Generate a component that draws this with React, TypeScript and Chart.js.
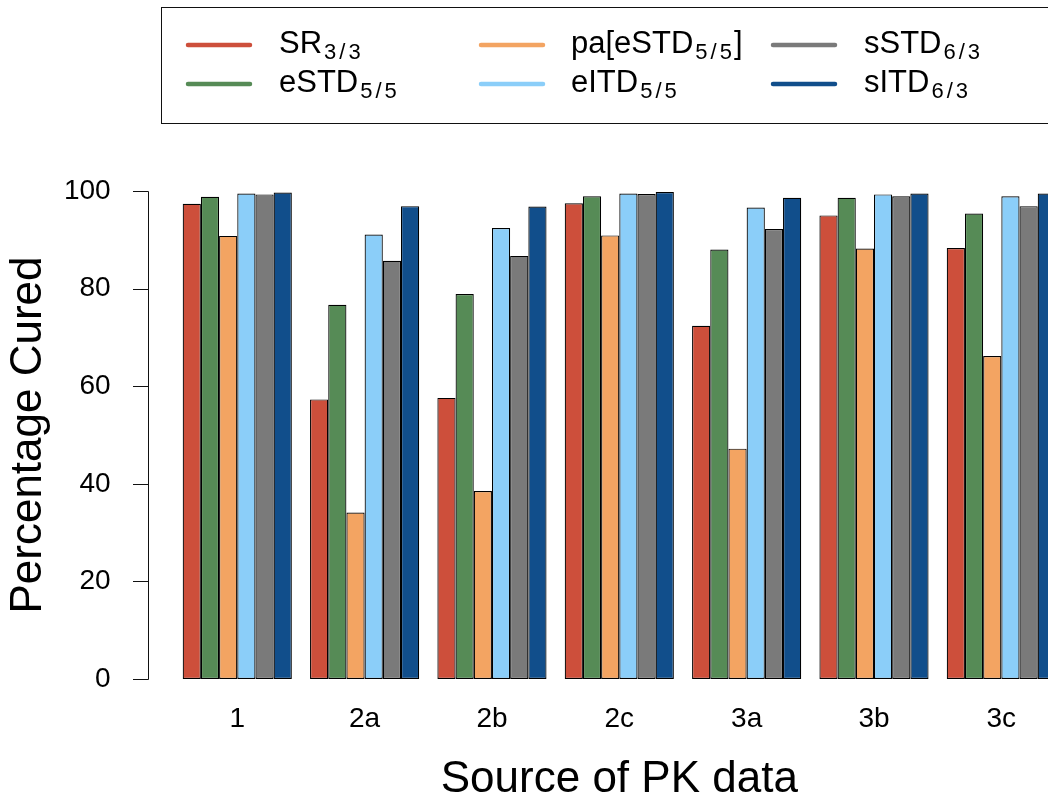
import React, { useEffect, useRef } from 'react';
import { Chart, registerables } from 'chart.js';

Chart.register(...registerables);

const FONT = '"Liberation Sans", Arial, Helvetica, sans-serif';

// ---- data ----
const categories = ['1', '2a', '2b', '2c', '3a', '3b', '3c'];
const srValues = [97.4, 57.3, 57.6, 97.5, 72.4, 95.0, 88.3];
const eSTDValues = [98.8, 76.7, 78.9, 98.9, 88.0, 98.6, 95.4];
const paESTDValues = [90.8, 34.1, 38.5, 90.9, 47.2, 88.2, 66.2];
const eITDValues = [99.5, 91.1, 92.4, 99.5, 96.6, 99.3, 98.9];
const sSTDValues = [99.3, 85.7, 86.7, 99.4, 92.2, 98.9, 96.9];
const sITDValues = [99.7, 96.9, 96.8, 99.8, 98.6, 99.5, 99.5];
const yTicks = [0, 20, 40, 60, 80, 100];

const seriesMain = ['SR', 'eSTD', 'pa[eSTD', 'eITD', 'sSTD', 'sITD'];
const seriesSub = ['3/3', '5/5', '5/5', '5/5', '6/3', '6/3'];
const seriesSuffix = ['', '', ']', '', '', ''];
const seriesColors = ['#CD4F3B', '#568B56', '#F3A462', '#8BCEF9', '#7A7A7A', '#114E8B'];
const seriesValues = [srValues, eSTDValues, paESTDValues, eITDValues, sSTDValues, sITDValues];

const xTitle = 'Source of PK data';
const yTitle = 'Percentage Cured';

// R-style y axis: line from min to max tick, outward tick marks
const rAxisPlugin = {
  id: 'rAxis',
  afterDraw(chart: any) {
    const ctx = chart.ctx;
    const ys = chart.scales.y;
    const ax = 148.5;
    ctx.save();
    ctx.strokeStyle = '#111';
    ctx.lineWidth = 1;
    ctx.beginPath();
    const yTop = Math.round(ys.getPixelForValue(yTicks[yTicks.length - 1])) + 0.5;
    const yBot = Math.round(ys.getPixelForValue(yTicks[0])) + 0.5;
    ctx.moveTo(ax, yTop);
    ctx.lineTo(ax, yBot);
    yTicks.forEach((t) => {
      const py = Math.round(ys.getPixelForValue(t)) + 0.5;
      ctx.moveTo(133, py);
      ctx.lineTo(ax, py);
    });
    ctx.stroke();
    ctx.restore();
  },
};

const legendPlugin = {
  id: 'boxLegend',
  afterDraw(chart: any) {
    const ctx = chart.ctx;
    ctx.save();
    ctx.strokeStyle = '#111';
    ctx.lineWidth = 1;
    ctx.strokeRect(161.5, 7.5, chart.width + 50, 116);
    const lineX = [188, 481, 773];
    const textX = [279, 571, 864];
    const lineY = [45, 84];
    const baseY = [53, 92];
    const mainFont = `31px ${FONT}`;
    const subFont = `22px ${FONT}`;
    chart.data.datasets.forEach((ds: any, i: number) => {
      const col = Math.floor(i / 2);
      const row = i % 2;
      ctx.strokeStyle = ds.backgroundColor;
      ctx.lineWidth = 4.5;
      ctx.lineCap = 'round';
      ctx.beginPath();
      ctx.moveTo(lineX[col], lineY[row]);
      ctx.lineTo(lineX[col] + 62, lineY[row]);
      ctx.stroke();

      ctx.fillStyle = '#000';
      ctx.textBaseline = 'alphabetic';
      ctx.textAlign = 'left';
      let x = textX[col];
      ctx.font = mainFont;
      ctx.fillText(seriesMain[i], x, baseY[row]);
      x += ctx.measureText(seriesMain[i]).width + 2;
      ctx.font = subFont;
      const chars = seriesSub[i].split('');
      chars.forEach((c: string) => {
        const gap = c === '/' ? 3 : 0;
        x += gap;
        ctx.fillText(c, x, baseY[row] + 6);
        x += ctx.measureText(c).width + gap;
      });
      if (seriesSuffix[i]) {
        ctx.font = mainFont;
        ctx.fillText(seriesSuffix[i], x + 2, baseY[row]);
      }
    });
    ctx.restore();
  },
};

export default function App() {
  const canvasRef = useRef<HTMLCanvasElement | null>(null);

  useEffect(() => {
    if (!canvasRef.current) return;
    Chart.defaults.font.family = FONT;
    const chart = new Chart(canvasRef.current, {
      type: 'bar',
      data: {
        labels: categories,
        datasets: seriesValues.map((vals, i) => ({
          label: seriesMain[i] + seriesSub[i] + seriesSuffix[i],
          data: vals,
          backgroundColor: seriesColors[i],
          borderColor: '#000',
          borderWidth: 1.2,
          borderSkipped: false,
          categoryPercentage: 6 / 7,
          barPercentage: 1,
        })),
      },
      options: {
        responsive: false,
        maintainAspectRatio: false,
        devicePixelRatio: 1,
        animation: false,
        layout: { padding: { top: 191, left: 0, right: 0, bottom: 0 } },
        plugins: {
          legend: { display: false },
          tooltip: { enabled: false },
        },
        scales: {
          x: {
            grid: { display: false },
            border: { display: false },
            ticks: { color: '#000', font: { size: 28, family: FONT }, padding: 15, maxRotation: 0, autoSkip: false },
            title: {
              display: true,
              text: xTitle,
              color: '#000',
              font: { size: 44, family: FONT, lineHeight: 1 },
              padding: { top: 0, bottom: 0 },
            },
            afterFit: (s: any) => {
              s.height = 123;
            },
          },
          y: {
            min: 0,
            max: 100,
            grid: { display: false },
            border: { display: false },
            ticks: { color: '#000', font: { size: 28, family: FONT }, padding: 55, stepSize: 20 },
            title: {
              display: true,
              text: yTitle,
              color: '#000',
              font: { size: 44, family: FONT, lineHeight: 1 },
              padding: { top: 7, bottom: 0 },
            },
            afterFit: (s: any) => {
              s.width = 173.6;
            },
          },
        },
      },
      plugins: [rAxisPlugin, legendPlugin],
    });
    return () => chart.destroy();
  }, []);

  return (
    <div
      style={{
        position: 'absolute',
        left: 0,
        top: 0,
        width: 1048,
        height: 802,
        overflow: 'hidden',
        background: '#fff',
      }}
    >
      <canvas ref={canvasRef} width={1065} height={802} style={{ display: 'block', width: 1065, height: 802 }} />
    </div>
  );
}
